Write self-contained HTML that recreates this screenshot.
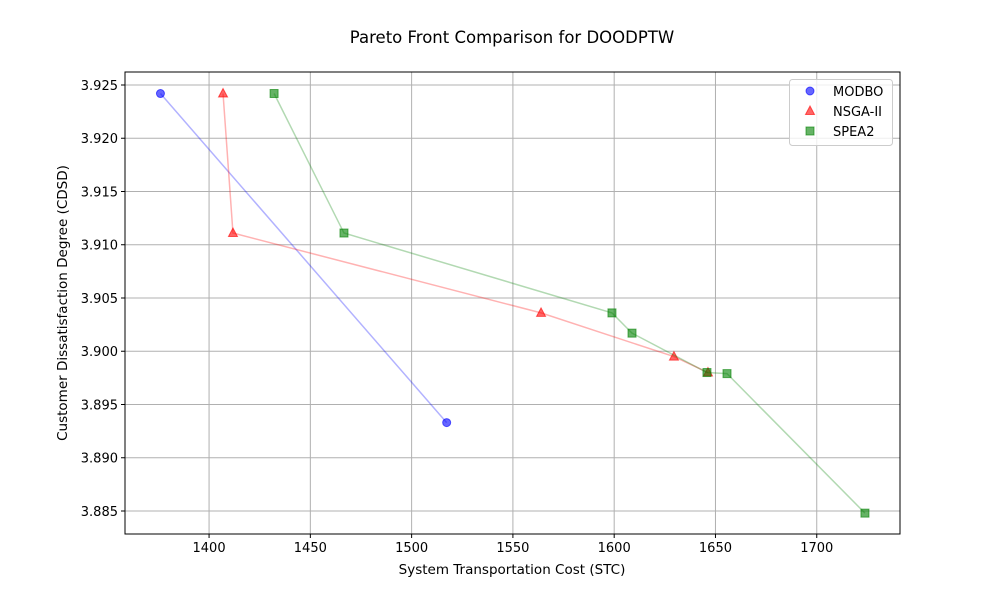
<!DOCTYPE html>
<html><head><meta charset="utf-8"><style>
body{margin:0;background:#fff;font-family:"DejaVu Sans","Liberation Sans",sans-serif}
</style></head><body>
<svg id="chart" width="1000" height="600" xmlns="http://www.w3.org/2000/svg" font-family="DejaVu Sans, Liberation Sans, sans-serif"></svg>
<script>
const xTicks=[1400,1450,1500,1550,1600,1650,1700];
const yTicks=[3.885,3.890,3.895,3.900,3.905,3.910,3.915,3.920,3.925];
const modboX=[1376,1517.3];
const modboY=[3.9242,3.8933];
const nsgaX=[1406.9,1411.8,1563.9,1629.5,1646.3];
const nsgaY=[3.9242,3.9111,3.9036,3.8995,3.8980];
const speaX=[1432.1,1466.6,1598.9,1608.8,1645.8,1655.7,1723.8];
const speaY=[3.9242,3.9111,3.9036,3.9017,3.8980,3.8979,3.8848];

const L=125,R=900,T=72,B=534;
const xMin=1358.5,xMax=1741.1,yMin=3.88284,yMax=3.92622;
const sx=v=>L+(v-xMin)/(xMax-xMin)*(R-L);
const sy=v=>B-(v-yMin)/(yMax-yMin)*(B-T);
const svg=document.getElementById('chart');
const NS='http://www.w3.org/2000/svg';
function mk(tag,attrs,parent){const e=document.createElementNS(NS,tag);for(const k in attrs)e.setAttribute(k,attrs[k]);(parent||svg).appendChild(e);return e;}
function txt(s,attrs){const e=mk('text',attrs);e.textContent=s;return e;}

const grid=mk('g',{});


xTicks.forEach(v=>{mk('line',{x1:sx(v),x2:sx(v),y1:T,y2:B,stroke:'#b0b0b0','stroke-width':1},grid);
 mk('line',{x1:sx(v),x2:sx(v),y1:B,y2:B+4,stroke:'#000'});
 const t=txt(v,{x:sx(v),y:B+18,'font-size':13,'text-anchor':'middle'});
 });
yTicks.forEach(v=>{mk('line',{x1:L,x2:R,y1:sy(v),y2:sy(v),stroke:'#b0b0b0','stroke-width':1},grid);
 mk('line',{x1:L-4,x2:L,y1:sy(v),y2:sy(v),stroke:'#000'});
 const t=txt(v.toFixed(3),{x:L-7,y:sy(v)+5,'font-size':13,'text-anchor':'end'});
 });

function series(xs,ys,color,shape,name){
 const g=mk('g',{});
 
 
 mk('polyline',{points:xs.map((x,i)=>sx(x)+','+sy(ys[i])).join(' '),fill:'none',stroke:color,'stroke-opacity':0.3,'stroke-width':1.5},g);
 xs.forEach((x,i)=>{const e=marker(sx(x),sy(ys[i]),color,shape,g);
  });
}
function marker(cx,cy,color,shape,g){
 if(shape==='o')return mk('circle',{cx,cy,r:4,fill:color,'fill-opacity':0.6,stroke:color,'stroke-opacity':0.6},g);
 if(shape==='^')return mk('polygon',{points:`${cx},${cy-5} ${cx-4.5},${cy+3.5} ${cx+4.5},${cy+3.5}`,fill:color,'fill-opacity':0.6,stroke:color,'stroke-opacity':0.6},g);
 return mk('rect',{x:cx-4,y:cy-4,width:8,height:8,fill:color,'fill-opacity':0.6,stroke:color,'stroke-opacity':0.6},g);
}
series(modboX,modboY,'#0000ff','o','modbo');
series(nsgaX,nsgaY,'#ff0000','^','nsga-ii');
series(speaX,speaY,'#008000','s','spea2');

const frame=mk('rect',{x:L,y:T,width:R-L,height:B-T,fill:'none',stroke:'#000','stroke-width':1});


const lg=mk('g',{});


mk('rect',{x:789.5,y:79.5,width:103,height:66,rx:3,fill:'#fff','fill-opacity':0.8,stroke:'#ccc'},lg);
[['MODBO','#0000ff','o'],['NSGA-II','#ff0000','^'],['SPEA2','#008000','s']].forEach((d,i)=>{
 const y=91+i*20;
 const e=marker(810,y,d[1],d[2],lg);
 
 const t=txt(d[0],{x:833,y:y+5,'font-size':13});
 
 lg.appendChild(t);
});

const ti=txt('Pareto Front Comparison for DOODPTW',{x:512,y:43,'font-size':16.5,'text-anchor':'middle'});

const xt=txt('System Transportation Cost (STC)',{x:512,y:574,'font-size':13.5,'text-anchor':'middle'});

const yt=txt('Customer Dissatisfaction Degree (CDSD)',{x:0,y:0,'font-size':13.5,'text-anchor':'middle',transform:'translate(67,303) rotate(-90)'});

</script>
</body></html>
